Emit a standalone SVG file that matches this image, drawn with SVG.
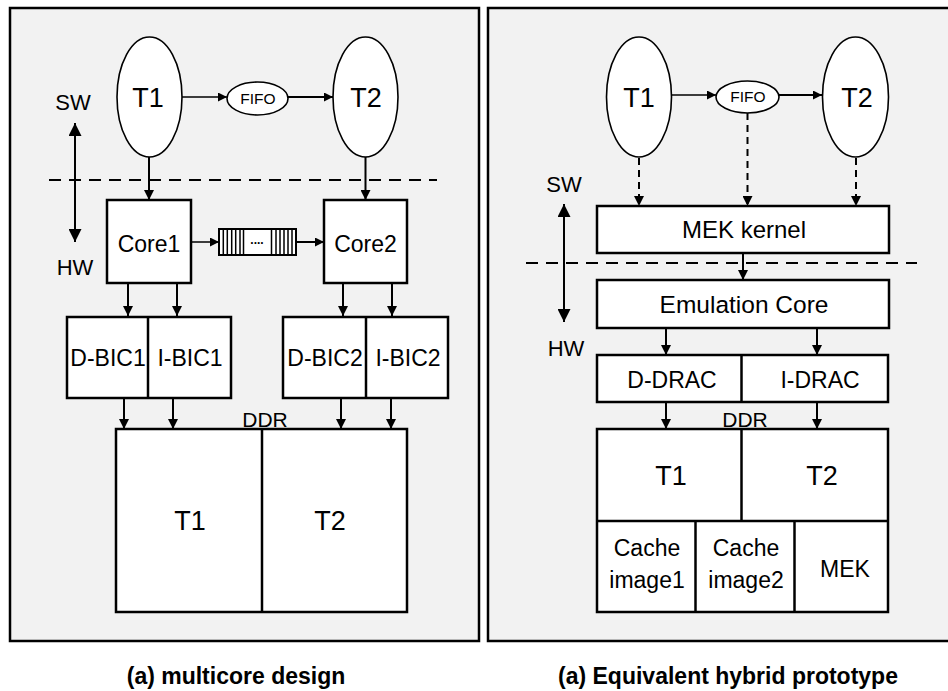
<svg xmlns="http://www.w3.org/2000/svg" width="948" height="691" viewBox="0 0 948 691">
<defs>
<style>
.panel{fill:#f2f2f2;stroke:#000;stroke-width:2.5}
.box{fill:#fff;stroke:#000;stroke-width:2.5}
.ell{fill:#fff;stroke:#000;stroke-width:1.6}
.ln{stroke:#000;stroke-width:2;fill:none}
.thin{stroke:#000;stroke-width:1.5;fill:none}
.dash{stroke:#000;stroke-width:2;fill:none;stroke-dasharray:12,8}
.darr{stroke:#000;stroke-width:2;fill:none;stroke-dasharray:7,5}
text{font-family:"Liberation Sans",Arial,sans-serif;fill:#000;text-anchor:middle}
.t{font-size:23px}
.tb{font-size:27px}
.fifo{font-size:15.5px}
.cap{font-size:23px;font-weight:bold}
</style>
<marker id="ah" viewBox="0 0 10 10" refX="10" refY="5" markerWidth="10" markerHeight="10" markerUnits="userSpaceOnUse" orient="auto"><path d="M0,0 L10,5 L0,10 z" fill="#000"/></marker>
<marker id="ahs" viewBox="0 0 10 10" refX="10" refY="5" markerWidth="9" markerHeight="9" markerUnits="userSpaceOnUse" orient="auto"><path d="M0,0 L10,5 L0,10 z" fill="#000"/></marker>
<marker id="big" viewBox="0 0 10 10" refX="10" refY="5" markerWidth="13" markerHeight="13" markerUnits="userSpaceOnUse" orient="auto-start-reverse"><path d="M0,0 L10,5 L0,10 z" fill="#000"/></marker>
</defs>

<rect class="panel" x="10" y="8" width="469" height="633"/>
<rect class="panel" x="488" y="8" width="470" height="633"/>

<g id="connectors">
<line class="thin" x1="182" y1="97" x2="227" y2="97" marker-end="url(#ahs)"/>
<line class="ln" x1="288" y1="97" x2="333" y2="97" marker-end="url(#ahs)"/>
<line class="dash" x1="49" y1="180" x2="437" y2="180"/>
<line class="ln" x1="75" y1="123" x2="75" y2="242" marker-start="url(#big)" marker-end="url(#big)"/>
<line class="ln" x1="149" y1="157" x2="149" y2="200" marker-end="url(#ah)"/>
<line class="ln" x1="365.5" y1="157" x2="365.5" y2="200" marker-end="url(#ah)"/>
<line class="thin" x1="191" y1="242" x2="219" y2="242" marker-end="url(#ahs)"/>
<line class="ln" x1="296" y1="242" x2="324" y2="242" marker-end="url(#ahs)"/>
<line class="ln" x1="128" y1="283" x2="128" y2="316" marker-end="url(#ah)"/>
<line class="ln" x1="177" y1="283" x2="177" y2="316" marker-end="url(#ah)"/>
<line class="ln" x1="343" y1="283" x2="343" y2="316" marker-end="url(#ah)"/>
<line class="ln" x1="392" y1="283" x2="392" y2="316" marker-end="url(#ah)"/>
<line class="ln" x1="124" y1="398" x2="124" y2="429" marker-end="url(#ah)"/>
<line class="ln" x1="173" y1="398" x2="173" y2="429" marker-end="url(#ah)"/>
<line class="ln" x1="341" y1="398" x2="341" y2="429" marker-end="url(#ah)"/>
<line class="ln" x1="391" y1="398" x2="391" y2="429" marker-end="url(#ah)"/>
<line class="thin" x1="671.5" y1="95" x2="716" y2="95" marker-end="url(#ahs)"/>
<line class="ln" x1="779" y1="95" x2="822" y2="95" marker-end="url(#ahs)"/>
<line class="darr" x1="639" y1="158" x2="639" y2="206" marker-end="url(#ah)"/>
<line class="darr" x1="747.5" y1="113" x2="747.5" y2="206" marker-end="url(#ah)"/>
<line class="darr" x1="856" y1="158" x2="856" y2="206" marker-end="url(#ah)"/>
<line class="dash" x1="526" y1="263" x2="917" y2="263"/>
<line class="ln" x1="564" y1="204" x2="564" y2="322" marker-start="url(#big)" marker-end="url(#big)"/>
<line class="ln" x1="743" y1="253" x2="743" y2="280" marker-end="url(#ah)"/>
<line class="ln" x1="666" y1="328" x2="666" y2="355" marker-end="url(#ah)"/>
<line class="ln" x1="817" y1="328" x2="817" y2="355" marker-end="url(#ah)"/>
<line class="ln" x1="666" y1="402" x2="666" y2="429" marker-end="url(#ah)"/>
<line class="ln" x1="817" y1="402" x2="817" y2="429" marker-end="url(#ah)"/>
</g>

<g id="sw-hw-left">
<text class="t" x="73" y="110" style="font-size:22px">SW</text>
<text class="t" x="75" y="275" style="font-size:22px">HW</text>
</g>

<g id="L-T1"><ellipse class="ell" cx="149.5" cy="97" rx="32.5" ry="60"/><text class="tb" x="148" y="107">T1</text></g>
<g id="L-FIFO"><ellipse class="ell" cx="257.5" cy="98.5" rx="30.5" ry="16.5"/><text class="fifo" x="258" y="104">FIFO</text></g>
<g id="L-T2"><ellipse class="ell" cx="365.5" cy="97" rx="32.5" ry="60"/><text class="tb" x="366" y="107">T2</text></g>

<g id="Core1"><rect class="box" x="107" y="200" width="84" height="83"/><text class="t" x="149" y="252">Core1</text></g>
<g id="Core2"><rect class="box" x="324" y="200" width="83" height="83"/><text class="t" x="365.5" y="252">Core2</text></g>

<g id="queue">
<rect x="219" y="229" width="77" height="26" fill="#fff" stroke="#000" stroke-width="2"/>
<path class="thin" d="M223.3,229V255M227.3,229V255M231.7,229V255M235.7,229V255M240,229V255M243.5,229V255M271.5,229V255M276,229V255M280,229V255M284,229V255M288,229V255M292,229V255"/>
<text x="257" y="244" style="font-size:12px;font-weight:bold">....</text>
</g>

<g id="BIC1">
<rect class="box" x="67" y="317" width="164" height="81"/>
<line class="box" x1="148" y1="317" x2="148" y2="398"/>
<text class="t" x="108" y="366">D-BIC1</text>
<text class="t" x="190" y="366">I-BIC1</text>
</g>
<g id="BIC2">
<rect class="box" x="283" y="317" width="165" height="81"/>
<line class="box" x1="366" y1="317" x2="366" y2="398"/>
<text class="t" x="325" y="366">D-BIC2</text>
<text class="t" x="408" y="366">I-BIC2</text>
</g>

<g id="L-DDR">
<text class="t" x="265" y="427" style="font-size:21px">DDR</text>
<rect class="box" x="116" y="429" width="291" height="183"/>
<line class="box" x1="262" y1="429" x2="262" y2="612"/>
<text class="tb" x="190" y="530">T1</text>
<text class="tb" x="330" y="530">T2</text>
</g>

<g id="sw-hw-right">
<text class="t" x="564" y="192" style="font-size:22px">SW</text>
<text class="t" x="566" y="356" style="font-size:22px">HW</text>
</g>

<g id="R-T1"><ellipse class="ell" cx="639" cy="97" rx="32.5" ry="60"/><text class="tb" x="639" y="107">T1</text></g>
<g id="R-FIFO"><ellipse class="ell" cx="747.5" cy="97" rx="31.5" ry="16"/><text class="fifo" x="748" y="102">FIFO</text></g>
<g id="R-T2"><ellipse class="ell" cx="855.5" cy="97" rx="33" ry="60"/><text class="tb" x="857" y="107">T2</text></g>

<g id="MEK-kernel"><rect class="box" x="597" y="206" width="292" height="47"/><text class="t" x="744" y="238" style="font-size:24px">MEK kernel</text></g>
<g id="Emulation-Core"><rect class="box" x="597" y="280" width="292" height="48"/><text class="t" x="744" y="313" style="font-size:24.5px">Emulation Core</text></g>

<g id="DRAC">
<rect class="box" x="597" y="355" width="291" height="47"/>
<line class="box" x1="741.5" y1="355" x2="741.5" y2="402"/>
<text class="t" x="672" y="388">D-DRAC</text>
<text class="t" x="820" y="388">I-DRAC</text>
</g>

<g id="R-DDR">
<text class="t" x="745" y="427" style="font-size:21px">DDR</text>
<rect class="box" x="597" y="429" width="291" height="183"/>
<line class="box" x1="597" y1="521" x2="888" y2="521"/>
<line class="box" x1="741.5" y1="429" x2="741.5" y2="521"/>
<line class="box" x1="695.5" y1="521" x2="695.5" y2="612"/>
<line class="box" x1="794.5" y1="521" x2="794.5" y2="612"/>
<text class="tb" x="671" y="485">T1</text>
<text class="tb" x="822" y="485">T2</text>
<text class="t" x="647" y="556">Cache</text>
<text class="t" x="647" y="588">image1</text>
<text class="t" x="746" y="556">Cache</text>
<text class="t" x="746" y="588">image2</text>
<text class="t" x="845" y="577">MEK</text>
</g>

<g id="captions">
<text class="cap" x="236" y="684">(a) multicore design</text>
<text class="cap" x="728" y="684">(a) Equivalent hybrid prototype</text>
</g>
</svg>
